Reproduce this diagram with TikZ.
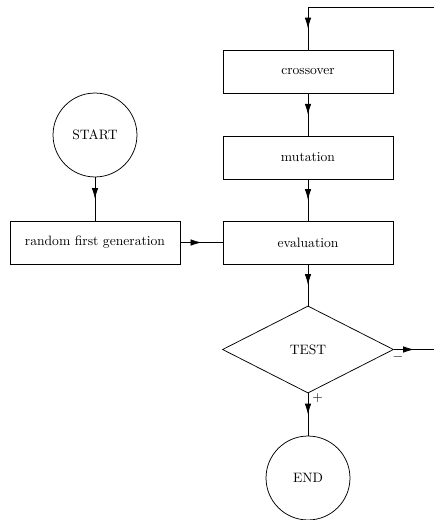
\documentclass[tikz,border=0pt]{standalone}
\usetikzlibrary{shapes.geometric,decorations.markings,arrows.meta}
\begin{document}
\begin{tikzpicture}[x=0.735pt,y=-0.735pt,
  every node/.style={font=\fontsize{10}{12}\selectfont},
  base/.style={draw,line width=0.55pt,inner sep=0pt},
  procbox/.style={base,rectangle,minimum width=125pt,minimum height=31.6pt},
  termcirc/.style={base,circle,minimum size=61.7pt},
  testdia/.style={base,diamond,minimum width=125.7pt,minimum height=64pt},
  conn/.style={line width=0.55pt},
  midarrow/.style={conn,postaction={decorate},decoration={markings,
    mark=at position 0.5 with {\arrow{Latex[length=8pt,width=4.8pt]}}}}
]
\useasboundingbox (0,0) rectangle (434,520);
\node[termcirc] (start) at (95,135) {START};
\node[procbox] (random) at (95,242.5) {random first generation};
\node[procbox] (cross) at (308,72) {crossover};
\node[procbox] (mut) at (308,157.5) {mutation};
\node[procbox] (eval) at (308,242.5) {evaluation};
\node[testdia] (test) at (308,349.5) {TEST};
\node[termcirc] (end) at (308,478) {END};
\coordinate (loopT) at (434,7);
\coordinate (loopC) at (308,7);
\coordinate (loopR) at (434,349.5);
\draw[conn] (loopT) -- (loopC);
\draw[midarrow] (loopC) -- (cross.north);
\draw[midarrow] (cross) -- (mut);
\draw[midarrow] (mut) -- (eval);
\draw[midarrow] (start) -- (random);
\draw[midarrow] (random) -- (eval);
\draw[midarrow] (eval) -- (test);
\draw[midarrow] (test.east) -- node[pos=0.1,below,inner sep=2pt] (minus) {$-$} (loopR);
\draw[midarrow] (test.south) -- node[pos=0.1,right,inner sep=3pt] (plus) {$+$} (end.north);
\end{tikzpicture}
\end{document}
